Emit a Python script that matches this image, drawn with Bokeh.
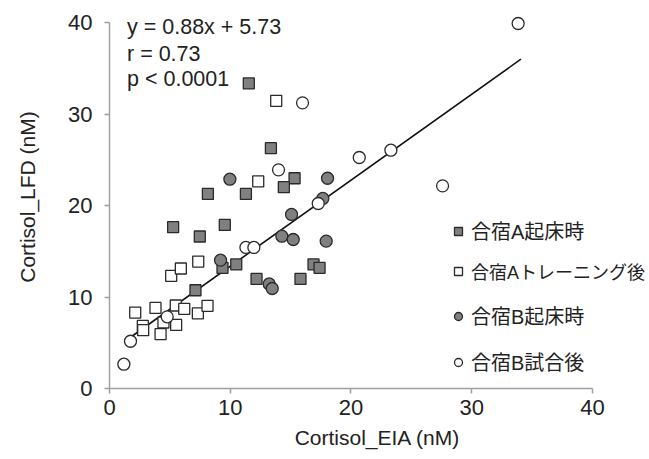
from bokeh.plotting import figure
from bokeh.models import Range1d, FixedTicker, Legend, LegendItem, Label
from bokeh.embed import file_html
from bokeh.resources import INLINE

# --- data ---
a_wake_x = [11.54, 13.37, 15.33, 14.44, 8.15, 11.30, 9.55, 7.48, 5.27, 10.5, 9.36, 7.12, 12.18, 15.82, 16.9, 17.4]
a_wake_y = [33.37, 26.29, 23.0, 22.02, 21.29, 21.29, 17.90, 16.63, 17.65, 13.57, 13.2, 10.75, 11.99, 11.99, 13.57, 13.2]

a_train_x = [2.13, 2.76, 2.79, 3.81, 4.23, 4.47, 5.49, 5.52, 6.19, 7.32, 8.12, 5.11, 5.91, 7.35, 12.32, 13.81]
a_train_y = [8.31, 6.85, 6.38, 8.82, 5.94, 7.22, 9.08, 6.96, 8.71, 8.21, 9.04, 12.32, 13.13, 13.89, 22.65, 31.47]

b_wake_x = [9.97, 18.06, 17.67, 15.08, 14.28, 15.22, 17.95, 13.23, 13.48, 9.2]
b_wake_y = [22.9, 23.0, 20.79, 19.04, 16.66, 16.30, 16.12, 11.44, 10.94, 14.04]

b_game_x = [1.19, 1.74, 4.78, 11.30, 11.96, 14.0, 15.99, 17.29, 20.69, 23.31, 27.59, 33.85]
b_game_y = [2.66, 5.17, 7.84, 15.43, 15.43, 23.92, 31.25, 20.24, 25.27, 26.07, 22.17, 39.93]

fit_x = [1.6, 34.08]
fit_y = [5.47, 36.03]

ticks = [0, 10, 20, 30, 40]
labels = ["合宿A起床時", "合宿Aトレーニング後", "合宿B起床時", "合宿B試合後"]
stats = ["y = 0.88x + 5.73", "r = 0.73", "p < 0.0001"]

LAT = "'Liberation Sans', Arial, sans-serif"
MIX = "'Liberation Sans', 'Noto Sans CJK JP', sans-serif"
TXT = "#222222"
AXC = "#a0a0a0"

p = figure(width=649, height=459, output_backend="svg", toolbar_location=None,
           x_range=Range1d(0, 44.4), y_range=Range1d(0, 41.9),
           min_border_left=109, min_border_right=4, min_border_top=5, min_border_bottom=71)
p.outline_line_color = None
p.xgrid.visible = False
p.ygrid.visible = False
p.background_fill_color = "white"
p.border_fill_color = "white"

for ax in (p.xaxis[0], p.yaxis[0]):
    ax.bounds = (0, 40)
    ax.ticker = FixedTicker(ticks=ticks)
    ax.minor_tick_line_color = None
    ax.axis_line_color = AXC
    ax.axis_line_width = 1.5
    ax.major_tick_line_color = AXC
    ax.major_tick_line_width = 1.5
    ax.major_tick_in = 0
    ax.major_tick_out = 5
    ax.major_label_text_font = LAT
    ax.major_label_text_font_size = "22px"
    ax.major_label_text_color = TXT
    ax.axis_label_text_font = LAT
    ax.axis_label_text_font_size = "21px"
    ax.axis_label_text_font_style = "normal"
    ax.axis_label_text_color = TXT

p.xaxis.axis_label = "Cortisol_EIA (nM)"
p.yaxis.axis_label = "Cortisol_LFD (nM)"
p.xaxis.major_label_standoff = 6
p.yaxis.major_label_standoff = 12
p.xaxis.axis_label_standoff = 8
p.yaxis.axis_label_standoff = 26

p.line(fit_x, fit_y, line_color="#111111", line_width=1.6)

GRAY = "#808080"
EDGE = "#2a2a2a"
r1 = p.scatter(a_wake_x, a_wake_y, marker="square", size=11, fill_color=GRAY, line_color=EDGE, line_width=1.3)
r2 = p.scatter(a_train_x, a_train_y, marker="square", size=11, fill_color="white", line_color=EDGE, line_width=1.3)
r3 = p.scatter(b_wake_x, b_wake_y, marker="circle", size=12, fill_color=GRAY, line_color=EDGE, line_width=1.3)
r4 = p.scatter(b_game_x, b_game_y, marker="circle", size=12, fill_color="white", line_color=EDGE, line_width=1.3)

# one legend per entry so each row sits where the reference has it
leg_pos = [(339, 143), (339, 104), (339, 58), (339, 12)]
leg_size = ["20px", "18px", "20px", "20px"]
for lab, r, loc, fs in zip(labels, [r1, r2, r3, r4], leg_pos, leg_size):
    lg = Legend(items=[LegendItem(label=lab, renderers=[r])], location=loc,
                label_text_font=MIX, label_text_font_size=fs, label_text_color=TXT,
                glyph_width=20, glyph_height=20, label_standoff=3, spacing=0,
                padding=0, margin=0, background_fill_alpha=0, border_line_color=None,
                label_height=24)
    p.add_layout(lg, "center")

for txt, yb in zip(stats, [39.53, 36.57, 33.84]):
    p.add_layout(Label(x=1.45, y=yb, text=txt, text_font=LAT, text_font_size="21.5px",
                       text_color=TXT, text_baseline="alphabetic"))

open("out.html", "w").write(file_html(p, INLINE))
